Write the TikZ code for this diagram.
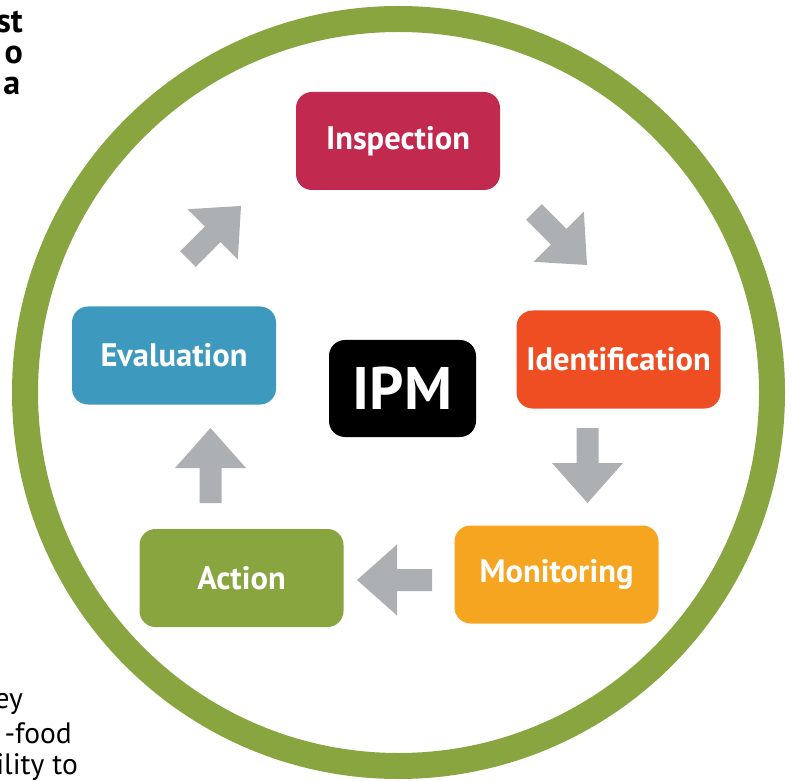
\documentclass[tikz,border=0pt]{standalone}
\usepackage{fontspec}
\setmainfont{PT Sans}
\usepackage{tikz}

\definecolor{ipmgreen}{HTML}{88A540}
\definecolor{ipmred}{HTML}{C1294F}
\definecolor{ipmorange}{HTML}{EF4E23}
\definecolor{ipmyellow}{HTML}{F5A520}
\definecolor{ipmblue}{HTML}{3D9ABE}
\definecolor{arrowgray}{HTML}{ADB0B3}

\begin{document}
\begin{tikzpicture}[x=1pt, y=1pt,
    stepbox/.style={rounded corners=16pt, minimum width=204pt, minimum height=98pt,
        text=white, font=\bfseries\fontsize{32.5}{34}\selectfont, inner sep=0pt},
    pagetext/.style={anchor=base east, inner sep=0pt, font=\fontsize{29.5}{32}\selectfont},
    blockarrow/.pic={\fill[arrowgray] (-37.5,-11) -- (-2.5,-11) -- (-2.5,-35.5) -- (37.5,0)
        -- (-2.5,35.5) -- (-2.5,11) -- (-37.5,11) -- cycle;}]
    \useasboundingbox (0,0) rectangle (794,780);

    % The ring
    \draw[ipmgreen, line width=26pt] (398.5,387.5) circle (373.5);

    % The steps
    \node[stepbox, fill=ipmred] (insp) at (398,639) {Inspection};
    \node[stepbox, fill=ipmorange] (ident) at (618.5,420.5) {Identification};
    \node[stepbox, fill=ipmyellow] (mon) at (556.5,205.5) {Monitoring};
    \node[stepbox, fill=ipmgreen] (act) at (241.5,202) {Action};
    \node[stepbox, fill=ipmblue] (eval) at (174,424.5) {Evaluation};
    \node[stepbox, fill=black, minimum width=147pt, minimum height=97pt,
        font=\bfseries\fontsize{60}{60}\selectfont] (ipm) at (402.5,391.5) {IPM};

    % Arrows between the steps
    \pic[rotate=-45] at (560.5,541.5) {blockarrow};
    \pic[rotate=-90] at (587.5,314.5) {blockarrow};
    \pic[rotate=180] at (394.5,200) {blockarrow};
    \pic[rotate=90] at (210.5,314.5) {blockarrow};
    \pic[rotate=45] at (214.5,547.5) {blockarrow};

    % Cut-off page text
    \node[pagetext, font=\bfseries\fontsize{34}{36}\selectfont] (t1) at (23,747) {st};
    \node[pagetext, font=\bfseries\fontsize{34}{36}\selectfont] (t2) at (23,716) {o};
    \node[pagetext, font=\bfseries\fontsize{34}{36}\selectfont] (t3) at (20.5,685) {a};
    \node[pagetext] (b1) at (23,72) {ey};
    \node[pagetext] (b2) at (72,37) {-food};
    \node[pagetext] (b3) at (78,6) {ility to};
\end{tikzpicture}
\end{document}
